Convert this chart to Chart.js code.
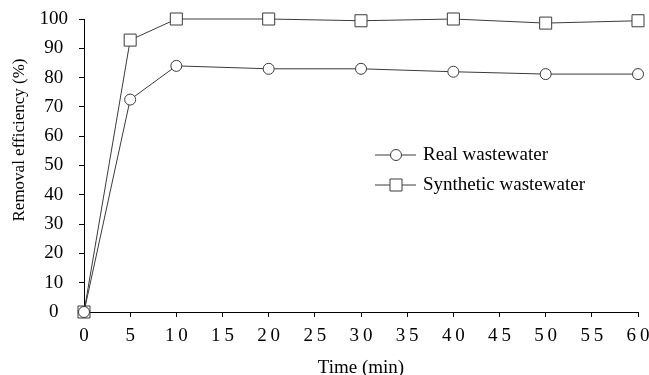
<!DOCTYPE html>
<html>
<head>
<meta charset="utf-8">
<script src="https://cdn.jsdelivr.net/npm/chart.js@4.4.1/dist/chart.umd.min.js"></script>
<style>
  html, body { margin: 0; padding: 0; background: #fff; }
  #wrap { width: 649px; height: 375px; }
</style>
</head>
<body>
<div id="wrap"><canvas id="chart"></canvas></div>
<script>
const timeMin = [0, 5, 10, 20, 30, 40, 50, 60];
const realWastewater = [0, 72.5, 84, 83, 83, 82, 81.2, 81.2];
const syntheticWastewater = [0, 92.8, 100, 100, 99.4, 100, 98.6, 99.4];
const seriesLabels = ['Real wastewater', 'Synthetic wastewater'];
const yTitle = 'Removal efficiency (%)';

const lineColor = '#3a3a3a';
const serif = "'Liberation Serif', 'Times New Roman', serif";

// legend sits inside the plot, drawn by hand; y title too (it is off-centre in the original)
const extras = {
    id: 'extras',
    afterDraw(chart) {
        const ctx = chart.ctx;
        const x0 = 375, x1 = 416, tx = 423;
        const rows = [155, 185];
        ctx.save();
        chart.data.datasets.forEach((ds, i) => {
            const y = rows[i];
            ctx.strokeStyle = lineColor;
            ctx.lineWidth = 1;
            ctx.beginPath();
            ctx.moveTo(x0, y);
            ctx.lineTo(x1, y);
            ctx.stroke();
            ctx.fillStyle = '#fff';
            ctx.beginPath();
            if (ds.pointStyle === 'rect') {
                ctx.rect(390, y - 6, 12, 12);
            } else {
                ctx.arc(396, y, 5.5, 0, Math.PI * 2);
            }
            ctx.fill();
            ctx.stroke();
            ctx.fillStyle = '#000';
            ctx.font = '19px ' + serif;
            ctx.textBaseline = 'middle';
            ctx.fillText(ds.label, tx, y);
        });

        ctx.translate(20, 140);
        ctx.rotate(-Math.PI / 2);
        ctx.textAlign = 'center';
        ctx.textBaseline = 'middle';
        ctx.font = '17px ' + serif;
        ctx.fillStyle = '#000';
        ctx.fillText(yTitle, 0, 0);
        ctx.restore();
    }
};

new Chart(document.getElementById('chart'), {
    type: 'line',
    data: {
        datasets: [{
            label: seriesLabels[0],
            data: timeMin.map((t, i) => ({ x: t, y: realWastewater[i] })),
            borderColor: lineColor,
            borderWidth: 1,
            pointStyle: 'circle',
            pointRadius: 5.5,
            pointBackgroundColor: '#fff',
            pointBorderColor: lineColor,
            pointBorderWidth: 1,
            clip: false,
        }, {
            label: seriesLabels[1],
            data: timeMin.map((t, i) => ({ x: t, y: syntheticWastewater[i] })),
            borderColor: lineColor,
            borderWidth: 1,
            pointStyle: 'rect',
            pointRadius: 8.5,
            pointBackgroundColor: '#fff',
            pointBorderColor: lineColor,
            pointBorderWidth: 1,
            clip: false,
        }],
    },
    options: {
        responsive: true,
        maintainAspectRatio: false,
        animation: false,
        layout: { padding: { left: 0, right: 11, top: 19, bottom: 0 } },
        plugins: {
            legend: { display: false },
            tooltip: { enabled: false },
        },
        scales: {
            x: {
                type: 'linear',
                min: 0,
                max: 60,
                ticks: {
                    stepSize: 5,
                    color: '#000',
                    font: { family: serif, size: 19 },
                    padding: 8,
                    maxRotation: 0,
                    callback: v => String(v).split('').join('\u2009'),
                },
                grid: {
                    drawOnChartArea: false,
                    tickLength: 5,
                    color: '#000',
                },
                border: { color: '#000', width: 1 },
                title: {
                    display: true,
                    text: 'Time (min)',
                    color: '#000',
                    font: { family: serif, size: 19, lineHeight: 1 },
                    padding: { top: 4, bottom: -3 },
                },
                afterFit(scale) {
                    scale.height = 63;
                    scale.paddingLeft = 0;
                    scale.paddingRight = 0;
                },
            },
            y: {
                min: 0,
                max: 100,
                ticks: {
                    stepSize: 10,
                    color: '#000',
                    font: { family: serif, size: 19 },
                    padding: 11,
                    crossAlign: 'center',
                },
                grid: {
                    drawOnChartArea: false,
                    tickLength: 5,
                    color: '#000',
                },
                border: { color: '#000', width: 1 },
                afterFit(scale) {
                    scale.width = 84;
                    scale.paddingTop = 0;
                    scale.paddingBottom = 0;
                },
            },
        },
    },
    plugins: [extras],
});
</script>
</body>
</html>
